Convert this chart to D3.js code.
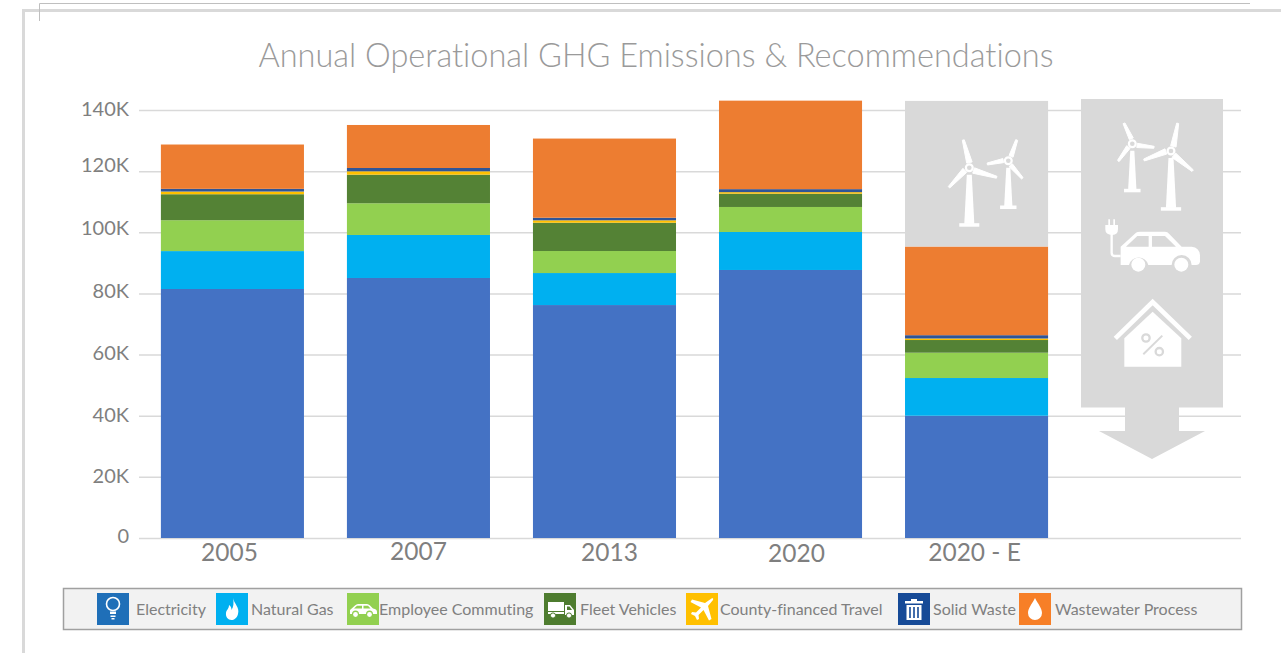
<!DOCTYPE html>
<html>
<head>
<meta charset="utf-8">
<script src="https://cdn.jsdelivr.net/npm/d3@7"></script>
<style>
html, body { margin: 0; padding: 0; background: #fff; overflow: hidden; }
svg { display: block; }
text { font-family: Lato, "Open Sans", sans-serif; font-variant-ligatures: none; }
</style>
</head>
<body>
<svg width="1281" height="653"></svg>
<script>
var years = ['2005', '2007', '2013', '2020', '2020 - E', ''];

var electricity = [81450, 85050, 76200, 87670, 40000, 0];
var naturalGas = [12400, 14070, 10470, 12430, 12330, 0];
var commuting = [10100, 10370, 7200, 8180, 8280, 0];
var fleet = [8500, 9360, 9260, 4350, 4150, 0];
var travel = [880, 1100, 780, 500, 500, 0];
var waste = [880, 1080, 850, 980, 1080, 0];
var wastewater = [14500, 14070, 25900, 28950, 29000, 0];
var reduction = [0, 0, 0, 0, 47630, 0];

var seriesNames = ['Electricity', 'Natural Gas', 'Employee Commuting', 'Fleet Vehicles',
    'County-financed Travel', 'Solid Waste', 'Wastewater Process', 'Reduction'];
var seriesValues = [electricity, naturalGas, commuting, fleet, travel, waste, wastewater, reduction];
var barColors = ['#4472c4', '#00b0f0', '#92d050', '#548235', '#ffc000', '#2f5597', '#ed7d31', '#d9d9d9'];
var yTicks = [0, 20000, 40000, 60000, 80000, 100000, 120000, 140000];

var legendNames = seriesNames.slice(0, 7);
var legendColors = ['#1f6fb8', '#00b0f0', '#92d050', '#4e7c2f', '#ffc000', '#164a97', '#f77f27'];
var legendBoxX = [97, 216, 347, 544, 686, 898, 1019];
var legendTextX = [136, 251, 379, 580, 720, 933, 1055];

// the source labels sit a little off their ticks
var yLabelShift = [0, 1, 1, 1, 0, -2, -4, 1];
var xLabelShift = [[-3, 2], [0, 1], [5, 2], [6, 3], [-2, 2], [0, 0]];

var svg = d3.select('svg');

// page frame and crop marks
svg.append('path')
    .attr('d', 'M1281 10.5H23.5V653')
    .attr('fill', 'none')
    .attr('stroke', '#d9d9d9')
    .attr('stroke-width', 3);
svg.append('path')
    .attr('d', 'M1250 3.5H39.5V21')
    .attr('fill', 'none')
    .attr('stroke', '#bfbfbf');

svg.append('text')
    .attr('x', 656)
    .attr('y', 67)
    .attr('text-anchor', 'middle')
    .attr('font-size', 32.5)
    .attr('font-weight', 300)
    .attr('fill', '#9a9a9a')
    .text('Annual Operational GHG Emissions & Recommendations');

var xScale = d3.scaleBand()
    .domain(years)
    .range([139.5, 1255.5])
    .paddingInner(0.231)
    .paddingOuter(0.115);

var yScale = d3.scaleLinear()
    .domain([0, 140000])
    .range([538, 110]);

// gridlines
var yAxis = d3.axisLeft(yScale)
    .tickValues(yTicks)
    .tickSize(0)
    .tickPadding(10)
    .tickFormat(function(d){
        return d === 0 ? '0' : (d / 1000) + 'K';
    });

var yGroup = svg.append('g')
    .attr('class', 'y axis')
    .attr('transform', 'translate(139,0)')
    .call(yAxis);
yGroup.select('.domain').remove();
yGroup.selectAll('.tick line')
    .attr('x2', 1102)
    .attr('stroke', '#d9d9d9')
    .attr('stroke-width', 1.5);
yGroup.selectAll('.tick text')
    .attr('y', function(d, i){ return yLabelShift[i]; })
    .attr('dy', '0.22em')
    .attr('font-size', 20)
    .attr('fill', '#7f7f7f');

var stack = d3.stack()
    .keys(d3.range(seriesNames.length))
    .value(function(d, key){
        return seriesValues[key][d];
    });
var stacked = stack(d3.range(years.length));

svg.selectAll('g.layer')
    .data(stacked)
    .enter()
    .append('g')
    .attr('class', 'layer')
    .attr('fill', function(d){
        return barColors[d.key];
    })
    .selectAll('rect')
    .data(function(d){
        return d.filter(function(p){ return years[p.data] !== ''; });
    })
    .enter()
    .append('rect')
    .attr('x', function(d){
        return xScale(years[d.data]);
    })
    .attr('y', function(d){
        return yScale(d[1]);
    })
    .attr('width', xScale.bandwidth())
    .attr('height', function(d){
        return yScale(d[0]) - yScale(d[1]);
    });

var xAxis = d3.axisBottom(xScale)
    .tickSize(0)
    .tickPadding(4);

var xGroup = svg.append('g')
    .attr('class', 'x axis')
    .attr('transform', 'translate(0,538)')
    .call(xAxis);
xGroup.select('.domain').remove();
xGroup.selectAll('.tick text')
    .attr('transform', function(d, i){
        return 'translate(' + xLabelShift[i][0] + ',' + xLabelShift[i][1] + ')';
    })
    .attr('font-size', 24.5)
    .attr('fill', '#7f7f7f');

// turbine drawn from hub, base y and blade tips
function turbine(g, hub, baseY, tips) {
    var bladeGen = d3.line();
    tips.forEach(function(tip){
        var dx = tip[0] - hub[0], dy = tip[1] - hub[1];
        var len = Math.sqrt(dx * dx + dy * dy);
        var ux = dx / len, uy = dy / len;
        var w = len * 0.14;
        g.append('path')
            .attr('d', bladeGen([
                [hub[0] + ux * 5 - uy * w, hub[1] + uy * 5 + ux * w],
                [tip[0] - uy, tip[1] + ux],
                [tip[0] + uy, tip[1] - ux],
                [hub[0] + ux * 5 + uy * w * 0.4, hub[1] + uy * 5 - ux * w * 0.4]
            ]) + 'Z')
            .attr('fill', '#fff')
            .attr('stroke', '#fff')
            .attr('stroke-linejoin', 'round');
    });
    g.append('circle').attr('cx', hub[0]).attr('cy', hub[1]).attr('r', 3.4)
        .attr('fill', 'none').attr('stroke', '#fff').attr('stroke-width', 2.2);
    var h = baseY - hub[1];
    var t = h * 0.085;
    g.append('path')
        .attr('d', bladeGen([
            [hub[0] - t * 0.5, hub[1] + 7], [hub[0] + t * 0.5, hub[1] + 7],
            [hub[0] + t, baseY - 3], [hub[0] - t, baseY - 3]
        ]) + 'Z')
        .attr('fill', '#fff');
    g.append('rect')
        .attr('x', hub[0] - h * 0.17).attr('y', baseY - 3.5)
        .attr('width', h * 0.34).attr('height', 3.5)
        .attr('fill', '#fff');
}

var leftIcons = svg.append('g');
turbine(leftIcons, [969.3, 167.7], 226.7, [[963.3, 140], [996.7, 177.3], [949, 187.3]]);
turbine(leftIcons, [1008.3, 160.7], 209, [[1016.7, 140], [987.3, 164], [1022.3, 178.3]]);

// recommendations arrow
svg.append('path')
    .attr('d', 'M1081 99H1223V407.5H1179V431H1205L1152 459L1099 431H1125V407.5H1081Z')
    .attr('fill', '#d9d9d9');

var rightIcons = svg.append('g');
turbine(rightIcons, [1132.3, 143.7], 192.3, [[1124, 123.3], [1154, 147.3], [1118.3, 161]]);
turbine(rightIcons, [1171, 151], 210.7, [[1177.7, 123.3], [1144, 160], [1192.7, 170.7]]);

// car and house are sketched in 3x crop units
var sketch = svg.append('g').attr('transform', 'translate(900,90) scale(0.3333)');
sketch.append('path')
    .attr('d', 'M662 470L708 428Q712 425 720 425L795 425Q803 425 808 432L845 470L875 470Q898 472 900 495L900 515Q898 525 888 525L875 525A30 30 0 0 0 815 525L745 525A30 30 0 0 0 687 525L662 525Z')
    .attr('fill', '#fff');
sketch.append('path')
    .attr('d', 'M678 470L712 438L746 438L746 470ZM756 470L756 438L795 438L828 470Z')
    .attr('fill', '#d9d9d9');
sketch.selectAll('circle.wheel')
    .data([715, 844])
    .enter()
    .append('circle')
    .attr('class', 'wheel')
    .attr('cx', function(d){ return d; })
    .attr('cy', 524)
    .attr('r', 21)
    .attr('fill', '#fff');
sketch.append('path')
    .attr('d', 'M625 388H630V405H640V388H645V405H654V418Q654 435 637 435Q616 435 616 418V405H625Z')
    .attr('fill', '#fff');
sketch.append('path')
    .attr('d', 'M635 432V488Q635 498 645 498H662')
    .attr('fill', 'none')
    .attr('stroke', '#fff')
    .attr('stroke-width', 7);
sketch.append('path')
    .attr('d', 'M646 745L758 636L871 745')
    .attr('fill', 'none')
    .attr('stroke', '#fff')
    .attr('stroke-width', 14);
sketch.append('path')
    .attr('d', 'M673 745L758 665L844 745V830H673Z')
    .attr('fill', '#fff');
sketch.selectAll('circle.pct')
    .data([[738, 744], [778, 785]])
    .enter()
    .append('circle')
    .attr('class', 'pct')
    .attr('cx', function(d){ return d[0]; })
    .attr('cy', function(d){ return d[1]; })
    .attr('r', 11)
    .attr('fill', 'none')
    .attr('stroke', '#d9d9d9')
    .attr('stroke-width', 7);
sketch.append('path')
    .attr('d', 'M787 737L730 793')
    .attr('stroke', '#d9d9d9')
    .attr('stroke-width', 6);

// legend
svg.append('rect')
    .attr('x', 63.5)
    .attr('y', 588.5)
    .attr('width', 1178)
    .attr('height', 41)
    .attr('fill', '#f2f2f2')
    .attr('stroke', '#a0a0a0')
    .attr('stroke-width', 1.5);

var legendIcons = [
    // bulb
    function(g){
        g.append('circle').attr('cx', 16).attr('cy', 11).attr('r', 6.5)
            .attr('fill', 'none').attr('stroke', '#fff').attr('stroke-width', 1.6);
        g.append('path').attr('d', 'M13 18.5H19V21H13ZM13.5 22.5H18.5V24H13.5ZM14.5 25H17.5V26.5H14.5Z').attr('fill', '#fff');
    },
    // flame
    function(g){
        g.append('path').attr('d', 'M17 5C18 11 24 14 22 21C21 25 18 27 15.5 27C12 27 9.5 24 10 20C10.5 16.5 13 16 13 12C15 13 15.5 15 15.5 17C17.5 14 18 10 17 5Z').attr('fill', '#fff');
    },
    // car
    function(g){
        g.append('path').attr('d', 'M3 17L8 12.5C9 11.5 10 11 11 11H20C21 11 22 11.5 23 12.5L26 15.5C29 16 30 17 30 19V21H26A3.5 3.5 0 0 0 19 21H12A3.5 3.5 0 0 0 5 21H3Z').attr('fill', '#fff');
        g.append('path').attr('d', 'M7 15.5L10 12.8H15V15.5ZM16.5 15.5V12.8H21L23.5 15.5Z').attr('fill', '#92d050');
        g.append('circle').attr('cx', 8.5).attr('cy', 21.5).attr('r', 2.4).attr('fill', '#fff');
        g.append('circle').attr('cx', 22.5).attr('cy', 21.5).attr('r', 2.4).attr('fill', '#fff');
    },
    // truck
    function(g){
        g.append('path').attr('d', 'M4 9H20V21H4ZM21 12H26L30 17V22H21Z').attr('fill', '#fff');
        g.append('rect').attr('x', 4).attr('y', 18).attr('width', 16).attr('height', 1).attr('fill', '#4e7c2f');
        g.append('path').attr('d', 'M23 13.5H25.5L28 17H23Z').attr('fill', '#4e7c2f');
        g.append('circle').attr('cx', 9).attr('cy', 22.5).attr('r', 2.6).attr('fill', '#fff').attr('stroke', '#4e7c2f');
        g.append('circle').attr('cx', 25).attr('cy', 22.5).attr('r', 2.6).attr('fill', '#fff').attr('stroke', '#4e7c2f');
    },
    // plane
    function(g){
        g.append('path').attr('d', 'M25.5 5.5C27 5 27.5 5.5 27 7L22 13L25.5 26L23 27.5L17.5 17L12.5 22L13 26L11 27L9 23L5 21L6 19L10 19.5L15 14.5L4.5 9L6 6.5L19 10Z').attr('fill', '#fff');
    },
    // trash can
    function(g){
        g.append('path').attr('d', 'M13 6H19V8H25V10.5H7V8H13ZM8.5 12H23.5V27H8.5Z').attr('fill', '#fff');
        g.append('path').attr('d', 'M12 14V25M16 14V25M20 14V25').attr('stroke', '#164a97').attr('stroke-width', 1.6);
    },
    // drop
    function(g){
        g.append('path').attr('d', 'M16 5C19 11 23 15 23 20A7 7 0 0 1 9 20C9 15 13 11 16 5Z').attr('fill', '#fff');
    }
];

var legend = svg.selectAll('g.legend')
    .data(legendNames)
    .enter()
    .append('g')
    .attr('class', 'legend');

legend.append('rect')
    .attr('x', function(d, i){ return legendBoxX[i]; })
    .attr('y', 593)
    .attr('width', 32)
    .attr('height', 32)
    .attr('fill', function(d, i){ return legendColors[i]; });

legend.append('g')
    .attr('transform', function(d, i){
        return 'translate(' + legendBoxX[i] + ',593)';
    })
    .each(function(d, i){
        legendIcons[i](d3.select(this));
    });

legend.append('text')
    .attr('x', function(d, i){ return legendTextX[i]; })
    .attr('y', 615)
    .attr('font-size', 16)
    .attr('fill', '#808080')
    .text(function(d){ return d; });
</script>
</body>
</html>
